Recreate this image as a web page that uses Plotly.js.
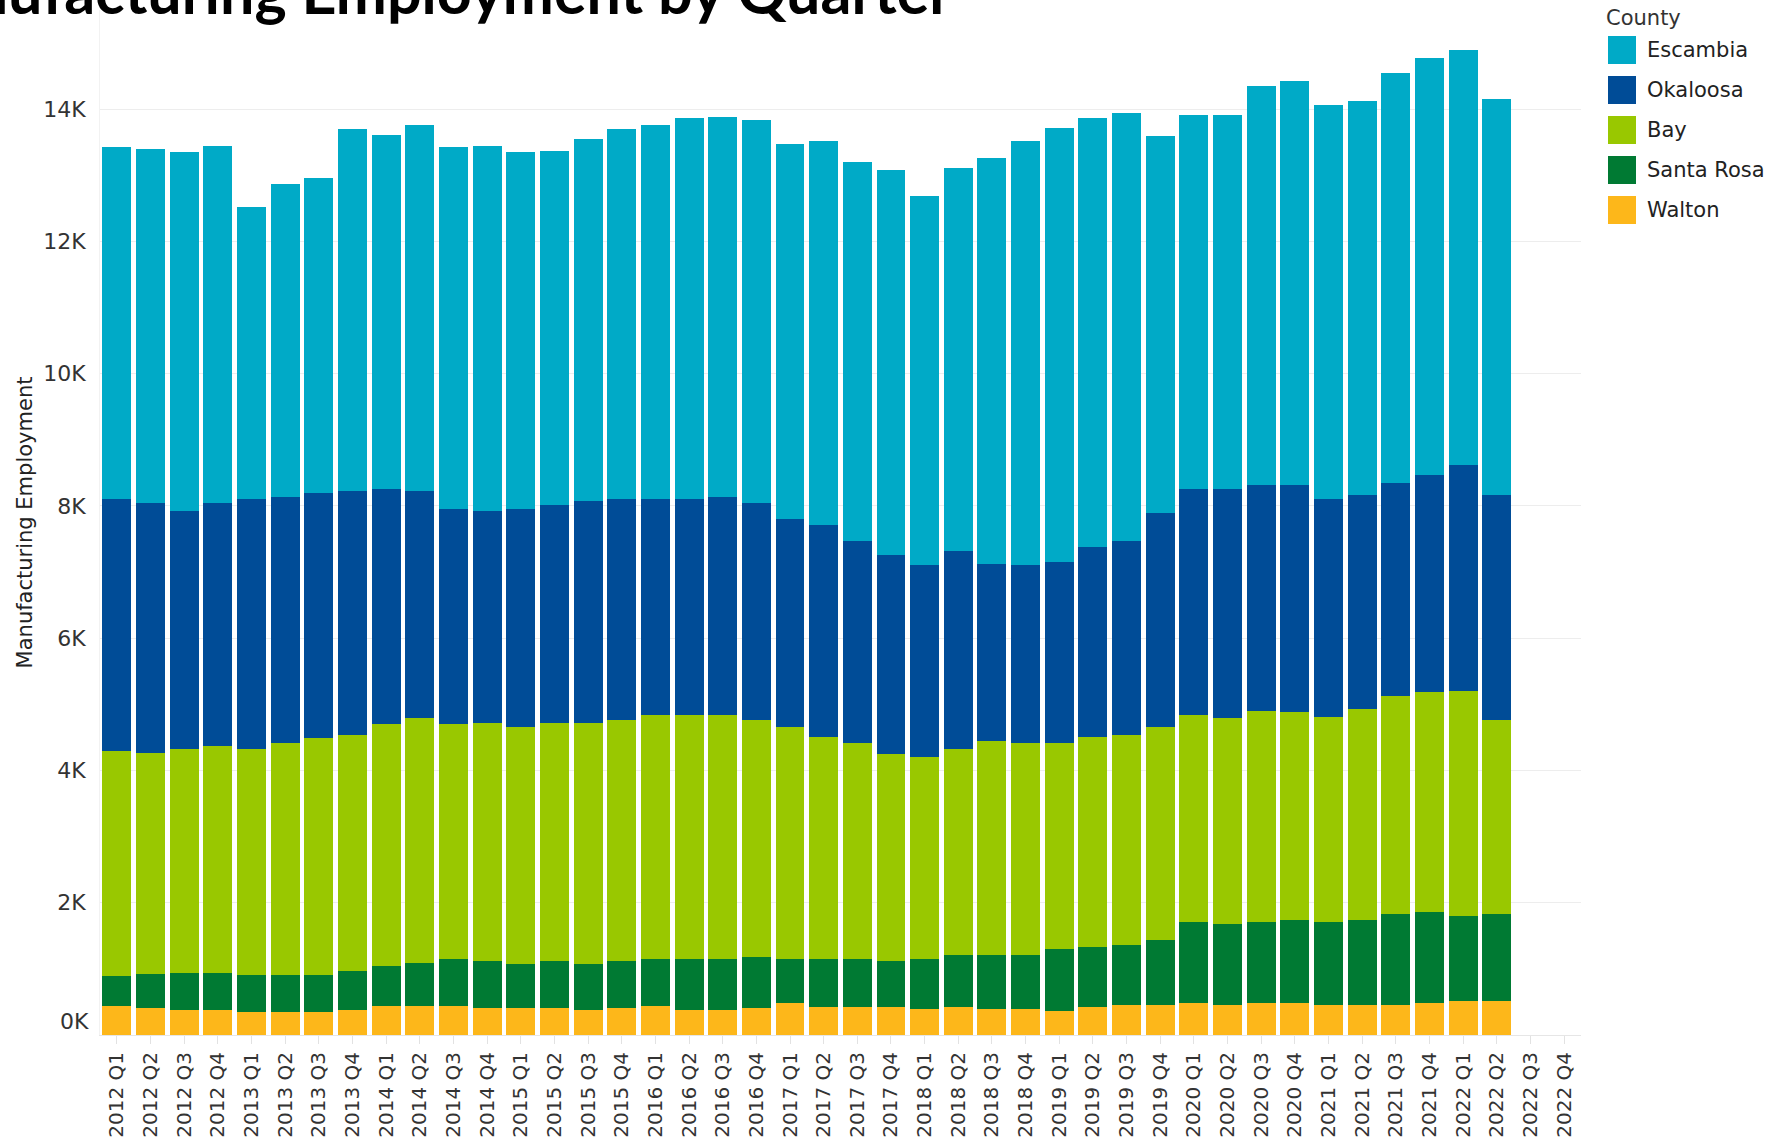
<!DOCTYPE html>
<html>
<head>
<meta charset="utf-8">
<script src="https://cdn.plot.ly/plotly-3.0.1.min.js"></script>
<style>
  html, body { margin: 0; padding: 0; background: #ffffff; }
  #chart { width: 1780px; height: 1140px; }
</style>
</head>
<body>
<div id="chart"></div>
<script>
// ---- Data ----
const quarters = [
  "2012 Q1","2012 Q2","2012 Q3","2012 Q4",
  "2013 Q1","2013 Q2","2013 Q3","2013 Q4",
  "2014 Q1","2014 Q2","2014 Q3","2014 Q4",
  "2015 Q1","2015 Q2","2015 Q3","2015 Q4",
  "2016 Q1","2016 Q2","2016 Q3","2016 Q4",
  "2017 Q1","2017 Q2","2017 Q3","2017 Q4",
  "2018 Q1","2018 Q2","2018 Q3","2018 Q4",
  "2019 Q1","2019 Q2","2019 Q3","2019 Q4",
  "2020 Q1","2020 Q2","2020 Q3","2020 Q4",
  "2021 Q1","2021 Q2","2021 Q3","2021 Q4",
  "2022 Q1","2022 Q2","2022 Q3","2022 Q4"
];

// quarters that have data (2012 Q1 .. 2022 Q2)
const dataQuarters = quarters.slice(0, 42);

const walton = [440,410,380,380,355,355,355,380,445,445,445,410,410,410,380,410,445,380,380,410,
                480,430,430,430,395,430,395,395,370,430,455,455,490,455,490,490,455,455,455,490,515,515];

const santaRosa = [445,505,560,560,555,555,555,595,605,645,700,705,670,705,700,705,700,765,765,765,
                   670,720,720,690,755,780,815,815,935,905,910,975,1215,1220,1215,1245,1250,1280,1370,1365,1280,1315];

const bay = [3410,3345,3390,3425,3420,3505,3575,3560,3655,3705,3560,3610,3575,3610,3645,3645,3700,3700,3700,3585,
             3505,3350,3265,3125,3060,3120,3240,3205,3110,3165,3170,3225,3140,3120,3190,3145,3105,3195,3295,3335,3410,2930];

const okaloosa = [3805,3780,3595,3675,3770,3720,3710,3690,3550,3430,3245,3200,3295,3285,3345,3340,3255,3255,3290,3280,
                  3145,3205,3050,3010,2890,2985,2680,2685,2745,2875,2930,3235,3410,3460,3420,3435,3290,3230,3225,3275,3410,3400];

const escambia = [5335,5360,5425,5410,4425,4735,4760,5470,5350,5535,5485,5525,5400,5355,5485,5595,5660,5765,5745,5790,
                  5670,5815,5730,5820,5580,5795,6135,6420,6550,6490,6485,5700,5660,5660,6030,6115,5970,5960,6205,6310,6280,5995];

const yTickVals = [0, 2000, 4000, 6000, 8000, 10000, 12000, 14000];
const yTickText = ["0K", "2K", "4K", "6K", "8K", "10K", "12K", "14K"];

const counties = ["Escambia", "Okaloosa", "Bay", "Santa Rosa", "Walton"];
const countyColors = {
  "Escambia": "#00AAC7",
  "Okaloosa": "#004C97",
  "Bay": "#99C800",
  "Santa Rosa": "#007A33",
  "Walton": "#FDB71A"
};
const countyValues = {
  "Escambia": escambia,
  "Okaloosa": okaloosa,
  "Bay": bay,
  "Santa Rosa": santaRosa,
  "Walton": walton
};

// ---- Layout geometry (pixels) ----
const W = 1780, H = 1140;
const M = { l: 100, r: 199, t: 10, b: 105 };
const plotW = W - M.l - M.r;
const plotH = H - M.t - M.b;
const px2x = px => (px - M.l) / plotW;
const py2y = py => (H - M.b - py) / plotH;

const axisFont = { family: "DejaVu Sans, Arial, sans-serif", size: 20, color: "#333333" };

// stacking order: bottom to top
const stackOrder = ["Walton", "Santa Rosa", "Bay", "Okaloosa", "Escambia"];
const traces = stackOrder.map(name => ({
  type: "bar",
  name: name,
  x: dataQuarters,
  y: countyValues[name],
  marker: { color: countyColors[name], line: { width: 0 } },
  showlegend: false,
  hovertemplate: "%{x}<br>" + name + ": %{y}<extra></extra>"
}));

// ---- Custom legend (larger swatches like the reference) ----
const shapes = [];
const annotations = [];
annotations.push({
  text: "County", xref: "paper", yref: "paper",
  x: px2x(1604), y: py2y(18), xanchor: "left", yanchor: "middle",
  showarrow: false, font: { family: "DejaVu Sans, Arial, sans-serif", size: 21, color: "#333333" }
});
counties.forEach((c, i) => {
  const cy = 50 + 40 * i;
  shapes.push({
    type: "rect", xref: "paper", yref: "paper",
    x0: px2x(1608), x1: px2x(1636), y0: py2y(cy + 14), y1: py2y(cy - 14),
    fillcolor: countyColors[c], line: { width: 0 }
  });
  annotations.push({
    text: c, xref: "paper", yref: "paper",
    x: px2x(1645), y: py2y(cy), xanchor: "left", yanchor: "middle",
    showarrow: false, font: { family: "DejaVu Sans, Arial, sans-serif", size: 21, color: "#222222" }
  });
});
// the bottom (0K) tick label is lifted above the baseline in the reference
annotations.push({
  text: yTickText[0], xref: "paper", yref: "y", x: 0, y: yTickVals[0],
  xanchor: "right", yanchor: "middle", xshift: -9, yshift: 14,
  showarrow: false, font: { family: "DejaVu Sans, Arial, sans-serif", size: 22, color: "#333333" }
});

const layout = {
  width: W, height: H,
  margin: M,
  paper_bgcolor: "#ffffff",
  plot_bgcolor: "#ffffff",
  barmode: "stack",
  bargap: 0.14,
  title: {
    text: "Manufacturing Employment by Quarter",
    font: { family: "Lato, Calibri, sans-serif", size: 61, color: "#000000", weight: 700 },
    xref: "container", x: 952 / W, xanchor: "right",
    yref: "container", y: 1 - 14 / H, yanchor: "bottom"
  },
  xaxis: {
    type: "category",
    categoryorder: "array",
    categoryarray: quarters,
    range: [-0.5, quarters.length - 0.5],
    tickangle: -90,
    ticks: "outside", ticklen: 8, tickwidth: 1, tickcolor: "#e2e2e2",
    tickfont: axisFont,
    showgrid: false,
    showline: true, linecolor: "#e6e6e6", linewidth: 1,
    zeroline: false,
    fixedrange: true,
    automargin: false
  },
  yaxis: {
    range: [0, 15500],
    tickvals: yTickVals,
    ticktext: ["", ...yTickText.slice(1)],
    tickfont: { family: "DejaVu Sans, Arial, sans-serif", size: 22, color: "#333333" },
    ticks: "",
    ticklabelstandoff: 9,
    showgrid: true, gridcolor: "#ededed", gridwidth: 1,
    zeroline: false,
    showline: true, linecolor: "#f2f2f2", linewidth: 1,
    title: {
      text: "Manufacturing Employment",
      font: { family: "DejaVu Sans, Arial, sans-serif", size: 21, color: "#222222" },
      standoff: 4
    },
    fixedrange: true,
    automargin: false
  },
  shapes: shapes,
  annotations: annotations,
  showlegend: false
};

Plotly.newPlot("chart", traces, layout, { displayModeBar: false, staticPlot: false });
</script>
</body>
</html>
